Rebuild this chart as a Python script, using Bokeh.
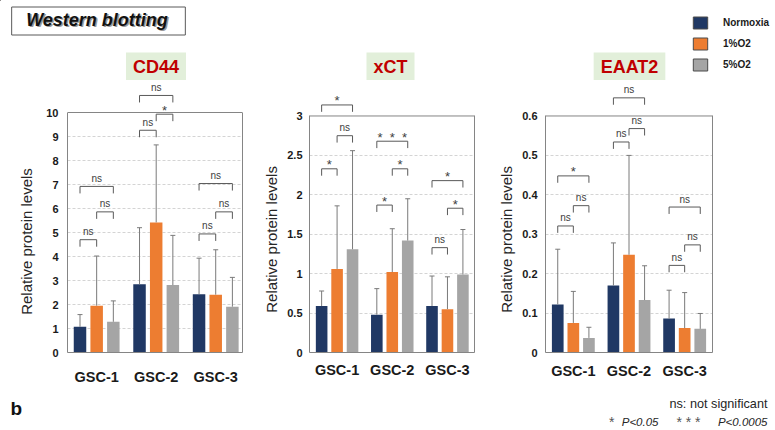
import numpy as np
from bokeh.plotting import figure
from bokeh.layouts import row, column
from bokeh.models import (ColumnDataSource, Range1d, FixedTicker, LinearAxis, Span, Label,
                          Legend, LegendItem, NumeralTickFormatter)
from bokeh.core.properties import value
from bokeh.embed import file_html
from bokeh.resources import INLINE

# ---------------- data ----------------
groups = ["GSC-1", "GSC-2", "GSC-3"]
series = ["Normoxia", "1%O2", "5%O2"]
series_colors = ["#203864", "#ed7d31", "#a5a5a5"]

# CD44
cd44_normoxia = [1.07, 2.84, 2.43]
cd44_1o2 = [1.95, 5.42, 2.41]
cd44_5o2 = [1.28, 2.81, 1.91]
cd44_normoxia_upper = [1.58, 5.20, 3.93]
cd44_1o2_upper = [4.02, 8.65, 4.28]
cd44_5o2_upper = [2.15, 4.88, 3.13]
cd44_ticks = [0, 1, 2, 3, 4, 5, 6, 7, 8, 9, 10]
cd44_bracket_group = [0, 0, 0, 1, 1, 1, 2, 2, 2]
cd44_bracket_pair = ["N-1", "1-5", "N-5", "N-1", "1-5", "N-5", "N-1", "1-5", "N-5"]
cd44_bracket_y = [4.70, 5.86, 6.92, 9.26, 9.93, 10.71, 4.94, 5.86, 7.04]
cd44_bracket_label = ["ns", "ns", "ns", "ns", "*", "ns", "ns", "ns", "ns"]

# xCT
xct_normoxia = [0.59, 0.48, 0.59]
xct_1o2 = [1.06, 1.02, 0.55]
xct_5o2 = [1.31, 1.42, 0.99]
xct_normoxia_upper = [0.78, 0.81, 0.97]
xct_1o2_upper = [1.86, 1.57, 0.96]
xct_5o2_upper = [2.56, 1.95, 1.56]
xct_ticks = [0, 0.5, 1, 1.5, 2, 2.5, 3]
xct_bracket_group = [0, 0, 0, 1, 1, 1, 2, 2, 2]
xct_bracket_pair = ["N-1", "1-5", "N-5", "N-1", "1-5", "N-5", "N-1", "1-5", "N-5"]
xct_bracket_y = [2.33, 2.75, 3.14, 1.87, 2.33, 2.68, 1.33, 1.83, 2.18]
xct_bracket_label = ["*", "ns", "*", "*", "*", "* * *", "ns", "*", "*"]

# EAAT2
eaat2_normoxia = [0.122, 0.170, 0.086]
eaat2_1o2 = [0.075, 0.248, 0.062]
eaat2_5o2 = [0.037, 0.133, 0.060]
eaat2_normoxia_upper = [0.262, 0.278, 0.158]
eaat2_1o2_upper = [0.155, 0.500, 0.152]
eaat2_5o2_upper = [0.064, 0.220, 0.099]
eaat2_ticks = [0, 0.1, 0.2, 0.3, 0.4, 0.5, 0.6]
eaat2_bracket_group = [0, 0, 0, 1, 1, 1, 2, 2, 2]
eaat2_bracket_pair = ["N-1", "1-5", "N-5", "N-1", "1-5", "N-5", "N-1", "1-5", "N-5"]
eaat2_bracket_y = [0.321, 0.3725, 0.448, 0.534, 0.568, 0.646, 0.221, 0.273, 0.369]
eaat2_bracket_label = ["ns", "ns", "*", "ns", "ns", "ns", "ns", "ns", "ns"]

panel_titles = ["CD44", "xCT", "EAAT2"]
y_title = "Relative protein levels"

FONT = "Liberation Sans"
BOX = "#858585"
TOP_H = 80          # header strip: page y 0-80
BOT_Y = 390         # footer strip: page y 390-430
W = 775
OFFSETS = [-0.28, 0.0, 0.28]
BAR_W = 0.21
PAIRS = {"N-1": (0, 1), "1-5": (1, 2), "N-5": (0, 2)}
NBSP = "\u00a0"


def make_panel(means, uppers, ticks, br_group, br_pair, br_y, br_label,
               width, left, right, box_top, box_bottom, xlo, xhi,
               tick_standoff, ylab_standoff, xlab_standoff, ylab_shift):
    ymax = ticks[-1]
    ppu = (box_bottom - box_top) / ymax
    y_end = (box_bottom - TOP_H) / ppu
    p = figure(width=width, height=BOT_Y - TOP_H, x_range=Range1d(xlo, xhi),
               y_range=Range1d(0, y_end),
               output_backend="svg", toolbar_location=None,
               min_border_left=left, min_border_right=right,
               min_border_top=0, min_border_bottom=BOT_Y - box_bottom)
    p.outline_line_color = None
    p.background_fill_color = "white"
    p.border_fill_color = "white"
    p.xgrid.visible = False
    p.ygrid.ticker = FixedTicker(ticks=ticks[1:-1])
    p.ygrid.grid_line_color = "#d4d4d4"
    p.ygrid.grid_line_dash = "3 2"

    ya = p.yaxis[0]
    ya.ticker = FixedTicker(ticks=ticks)
    ya.formatter = NumeralTickFormatter(format="0.[0]")
    ya.bounds = (0, ymax)
    ya.axis_line_color = BOX
    ya.major_tick_line_color = None
    ya.minor_tick_line_color = None
    ya.major_tick_out = 0
    ya.major_label_standoff = tick_standoff
    ya.major_label_text_font = FONT
    ya.major_label_text_font_style = "bold"
    ya.major_label_text_font_size = "11px"
    ya.major_label_text_color = "#1a1a1a"
    # non-breaking spaces move the centred title down so it sits centred on the plot box
    ya.axis_label = y_title + NBSP * ylab_shift
    ya.axis_label_text_font = FONT
    ya.axis_label_text_font_style = "normal"
    ya.axis_label_text_font_size = "15px"
    ya.axis_label_text_color = "#262626"
    ya.axis_label_standoff = ylab_standoff

    xa = p.xaxis[0]
    xa.ticker = FixedTicker(ticks=[0, 1, 2])
    xa.major_label_overrides = {i: g for i, g in enumerate(groups)}
    xa.axis_line_color = BOX
    xa.major_tick_line_color = None
    xa.minor_tick_line_color = None
    xa.major_tick_out = 0
    xa.major_label_standoff = xlab_standoff
    xa.major_label_text_font = FONT
    xa.major_label_text_font_style = "bold"
    xa.major_label_text_font_size = "14.5px"
    xa.major_label_text_color = "#1a1a1a"

    ra = LinearAxis(ticker=FixedTicker(ticks=[]), bounds=(0, ymax), axis_line_color=BOX,
                    major_tick_line_color=None, minor_tick_line_color=None,
                    major_label_text_font_size="0px")
    p.add_layout(ra, "right")
    p.add_layout(Span(location=ymax, dimension="width", line_color=BOX, line_width=1))

    gx = np.arange(len(groups))
    for i, (m, u, c) in enumerate(zip(means, uppers, series_colors)):
        xs = gx + OFFSETS[i]
        src = ColumnDataSource(dict(x=xs, top=m, up=u))
        p.vbar(x="x", top="top", width=BAR_W, bottom=0, source=src, fill_color=c, line_color=None)
        p.segment(x0="x", y0="top", x1="x", y1="up", source=src, line_color="#7a7a7a", line_width=1)
        p.scatter(x="x", y="up", source=src, marker="dash", size=5, line_color="#7a7a7a", line_width=1)

    leg = 7.0 / ppu
    x0s, y0s, x1s, y1s = [], [], [], []
    ns_x, ns_y, ns_t, st_x, st_y, st_t = [], [], [], [], [], []
    for g, pr, y, lab in zip(br_group, br_pair, br_y, br_label):
        a, b = PAIRS[pr]
        xl = g + OFFSETS[a]
        xr = g + OFFSETS[b]
        x0s += [xl, xl, xr]
        x1s += [xr, xl, xr]
        y0s += [y, y, y]
        y1s += [y, y - leg, y - leg]
        if lab == "ns":
            ns_x.append((xl + xr) / 2); ns_y.append(y); ns_t.append(lab)
        else:
            st_x.append((xl + xr) / 2); st_y.append(y); st_t.append(lab.replace(" ", NBSP * 2))
    p.segment(x0=x0s, y0=y0s, x1=x1s, y1=y1s, line_color="#595959", line_width=1)
    if ns_x:
        p.text(x=ns_x, y=ns_y, text=ns_t, y_offset=-8, text_align="center",
               text_baseline="middle", text_font=value(FONT), text_font_size="10px",
               text_color="#404040")
    if st_x:
        p.text(x=st_x, y=st_y, text=st_t, y_offset=-4, text_align="center",
               text_baseline="middle", text_font=value(FONT), text_font_size="13px",
               text_color="#404040")
    return p


def strip(height, y_top):
    # a blank figure whose data coordinates equal page pixels (y grows downward)
    s = figure(width=W, height=height, x_range=Range1d(0, W), y_range=Range1d(y_top + height, y_top),
               x_axis_type=None, y_axis_type=None, output_backend="svg", toolbar_location=None,
               min_border=0)
    s.outline_line_color = None
    s.xgrid.visible = False
    s.ygrid.visible = False
    s.background_fill_color = "white"
    s.border_fill_color = "white"
    return s


p1 = make_panel([cd44_normoxia, cd44_1o2, cd44_5o2],
                [cd44_normoxia_upper, cd44_1o2_upper, cd44_5o2_upper], cd44_ticks,
                cd44_bracket_group, cd44_bracket_pair, cd44_bracket_y, cd44_bracket_label,
                width=260, left=67, right=18, box_top=112, box_bottom=352,
                xlo=-0.49, xhi=2.45, tick_standoff=9, ylab_standoff=8, xlab_standoff=16,
                ylab_shift=12)
p2 = make_panel([xct_normoxia, xct_1o2, xct_5o2],
                [xct_normoxia_upper, xct_1o2_upper, xct_5o2_upper], xct_ticks,
                xct_bracket_group, xct_bracket_pair, xct_bracket_y, xct_bracket_label,
                width=235, left=48, right=21, box_top=116, box_bottom=356,
                xlo=-0.5, xhi=2.49, tick_standoff=7, ylab_standoff=4, xlab_standoff=9,
                ylab_shift=11)
p3 = make_panel([eaat2_normoxia, eaat2_1o2, eaat2_5o2],
                [eaat2_normoxia_upper, eaat2_1o2_upper, eaat2_5o2_upper], eaat2_ticks,
                eaat2_bracket_group, eaat2_bracket_pair, eaat2_bracket_y, eaat2_bracket_label,
                width=280, left=50, right=63, box_top=116, box_bottom=356,
                xlo=-0.5, xhi=2.5, tick_standoff=8, ylab_standoff=4, xlab_standoff=10,
                ylab_shift=11)

# ---------------- header strip ----------------
top = strip(TOP_H, 0)
for txt, cx in zip(panel_titles, [155.5, 390, 629]):
    top.add_layout(Label(x=cx, y=66, text=txt, text_align="center", text_baseline="middle",
                         text_font=FONT, text_font_size="18px", text_font_style="bold",
                         text_color="#c00000", background_fill_color="#e2efda", padding=(7, 4)))

top.add_layout(Label(x=98, y=20.5, text="Western blotting", text_align="center",
                     text_baseline="middle", text_font=FONT, text_font_size="18px",
                     text_font_style="bold italic", text_color="#9a9a9a",
                     background_fill_color="white", border_line_color="#595959",
                     border_line_width=1, padding=(16, 4)))
top.add_layout(Label(x=96.5, y=19, text="Western blotting", text_align="center",
                     text_baseline="middle", text_font=FONT, text_font_size="18px",
                     text_font_style="bold italic", text_color="#111111"))

# legend swatches: one off-screen bar per series so the legend has something to draw
items = []
for s, c in zip(series, series_colors):
    r = top.vbar(x=[-500], top=[-500], bottom=[-400], width=1, fill_color=c, line_color="#4a4a4a")
    items.append(LegendItem(label=s, renderers=[r], index=0))
legend = Legend(items=items, location=(691, TOP_H - 71.5), padding=0, margin=0, spacing=6,
                glyph_width=18, glyph_height=15, label_height=15, label_standoff=14,
                label_text_font=FONT, label_text_font_size="10px", label_text_font_style="bold",
                label_text_color="#1a1a1a", label_text_baseline="middle",
                border_line_color=None, background_fill_alpha=0)
top.add_layout(legend)

# ---------------- footer strip ----------------
bot = strip(430 - BOT_Y, BOT_Y)
bot.add_layout(Label(x=10, y=408, text="b", text_align="left", text_baseline="middle",
                     text_font=FONT, text_font_size="19px", text_font_style="bold",
                     text_color="#111111"))
bot.add_layout(Label(x=767, y=403, text="ns: not significant", text_align="right",
                     text_baseline="middle", text_font=FONT, text_font_size="12.7px",
                     text_color="#262626"))
for txt, xr, size, style, col in [("*", 614, "14px", "normal", "#555555"),
                                  ("P<0.05", 658, "11.5px", "italic", "#262626"),
                                  ("*\u00a0*\u00a0*", 700, "14px", "normal", "#555555"),
                                  ("P<0.0005", 767, "11.5px", "italic", "#262626")]:
    bot.add_layout(Label(x=xr, y=421.5, text=txt, text_align="right", text_baseline="middle",
                         text_font=FONT, text_font_size=size, text_font_style=style,
                         text_color=col))

layout = column(top, row(p1, p2, p3), bot)
open("out.html", "w").write(file_html(layout, INLINE))
